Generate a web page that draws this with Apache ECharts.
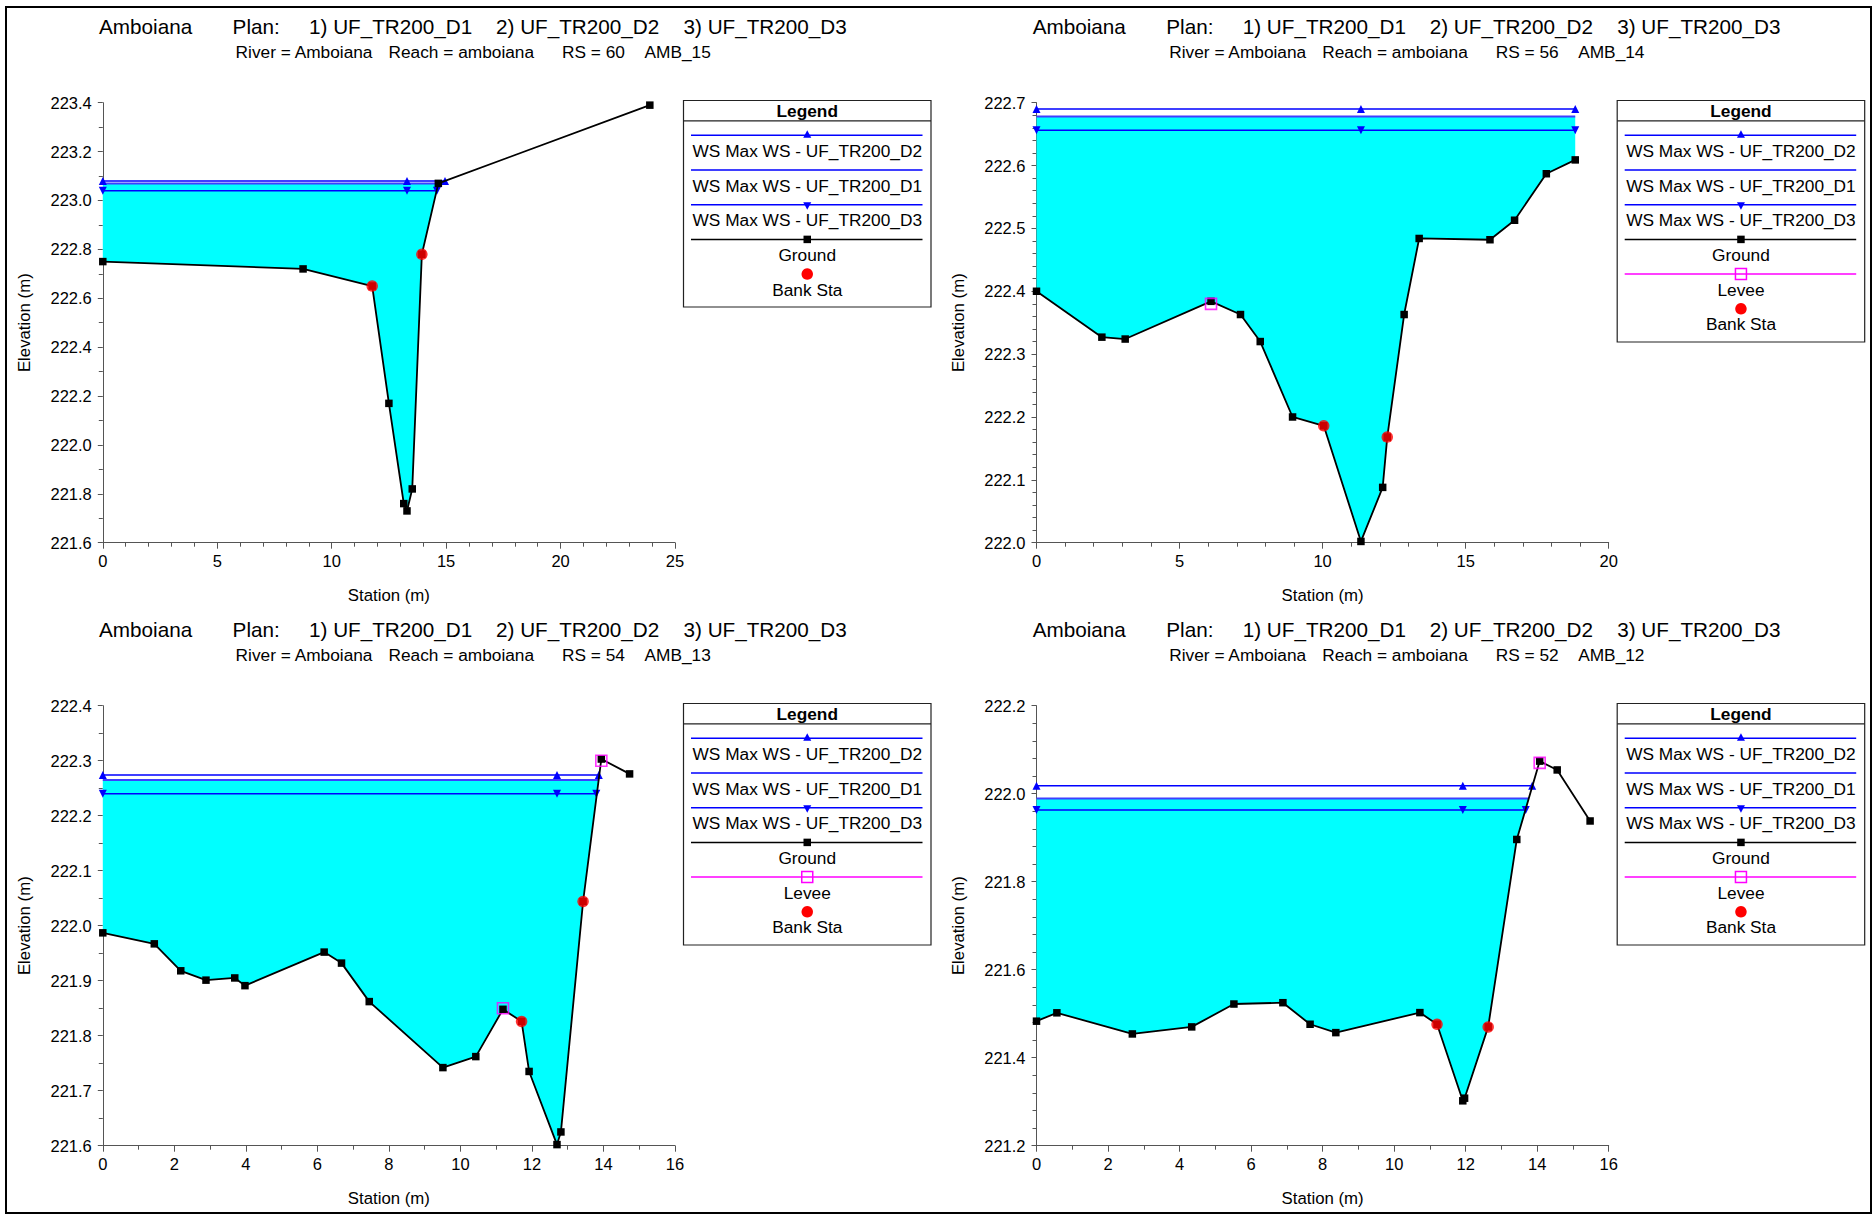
<!DOCTYPE html>
<html><head><meta charset="utf-8">
<script src="https://cdn.jsdelivr.net/npm/echarts@6/dist/echarts.min.js"></script>
<style>html,body{margin:0;padding:0;background:#fff}#c{width:1874px;height:1216px}</style>
</head><body><div id="c"></div>
<script>
// ---------------- DATA ----------------
const planLabels = ['1) UF_TR200_D1', '2) UF_TR200_D2', '3) UF_TR200_D3'];
const legendLabels = ['WS Max WS - UF_TR200_D2', 'WS Max WS - UF_TR200_D1', 'WS Max WS - UF_TR200_D3', 'Ground', 'Levee', 'Bank Sta'];

// RS = 60  AMB_15
const rs60_groundStation = [0, 8.75, 11.77, 12.5, 13.15, 13.29, 13.52, 13.94, 14.66, 23.9];
const rs60_groundElev    = [222.75, 222.72, 222.65, 222.17, 221.76, 221.73, 221.82, 222.78, 223.07, 223.39];
const rs60_bankStation = [11.77, 13.94];
const rs60_bankElev    = [222.65, 222.78];
const rs60_leveeStation = [];
const rs60_leveeElev    = [];
const rs60_wsD2 = 223.08,  rs60_wsD2Station = [0, 13.29, 14.95];
const rs60_wsD1 = 223.069, rs60_wsD1Station = [0, 14.66];
const rs60_wsD3 = 223.04,  rs60_wsD3Station = [0, 13.29, 14.6];
const rs60_xTicks = [0, 25, 5];
const rs60_yTicks = [221.6, 223.4, 0.2];

// RS = 56  AMB_14
const rs56_groundStation = [0, 2.285, 3.10, 6.10, 7.13, 7.82, 8.95, 10.04, 11.34, 12.10, 12.26, 12.85, 13.375, 15.85, 16.71, 17.82, 18.83];
const rs56_groundElev    = [222.40, 222.327, 222.324, 222.384, 222.363, 222.32, 222.20, 222.186, 222.002, 222.088, 222.168, 222.363, 222.484, 222.482, 222.513, 222.587, 222.609];
const rs56_bankStation = [10.04, 12.26];
const rs56_bankElev    = [222.186, 222.168];
const rs56_leveeStation = [6.10];
const rs56_leveeElev    = [222.38];
const rs56_wsD2 = 222.690, rs56_wsD2Station = [0, 11.34, 18.83];
const rs56_wsD1 = 222.678, rs56_wsD1Station = [0, 18.83];
const rs56_wsD3 = 222.656, rs56_wsD3Station = [0, 11.34, 18.83];
const rs56_xTicks = [0, 20, 5];
const rs56_yTicks = [222.0, 222.7, 0.1];

// RS = 54  AMB_13
const rs54_groundStation = [0, 1.44, 2.18, 2.885, 3.69, 3.975, 6.19, 6.675, 7.45, 9.51, 10.43, 11.19, 11.71, 11.92, 12.70, 12.81, 13.43, 13.94, 14.73];
const rs54_groundElev    = [221.987, 221.967, 221.918, 221.901, 221.905, 221.891, 221.952, 221.932, 221.862, 221.742, 221.762, 221.848, 221.826, 221.735, 221.602, 221.625, 222.044, 222.303, 222.276];
const rs54_bankStation = [11.71, 13.43];
const rs54_bankElev    = [221.826, 222.044];
const rs54_leveeStation = [11.19, 13.94];
const rs54_leveeElev    = [221.85, 222.30];
const rs54_wsD2 = 222.274, rs54_wsD2Station = [0, 12.70, 13.87];
const rs54_wsD1 = 222.265, rs54_wsD1Station = [0, 13.865];
const rs54_wsD3 = 222.240, rs54_wsD3Station = [0, 12.70, 13.80];
const rs54_xTicks = [0, 16, 2];
const rs54_yTicks = [221.6, 222.4, 0.1];

// RS = 52  AMB_12
const rs52_groundStation = [0, 0.57, 2.68, 4.34, 5.52, 6.89, 7.65, 8.37, 10.72, 11.20, 11.92, 11.97, 12.63, 13.43, 14.07, 14.56, 15.48];
const rs52_groundElev    = [221.483, 221.502, 221.454, 221.470, 221.522, 221.525, 221.476, 221.457, 221.5025, 221.476, 221.302, 221.308, 221.470, 221.896, 222.074, 222.054, 221.938];
const rs52_bankStation = [11.20, 12.63];
const rs52_bankElev    = [221.476, 221.470];
const rs52_leveeStation = [14.07];
const rs52_leveeElev    = [222.07];
const rs52_wsD2 = 222.018, rs52_wsD2Station = [0, 11.92, 13.86];
const rs52_wsD1 = 221.989, rs52_wsD1Station = [0, 13.76];
const rs52_wsD3 = 221.963, rs52_wsD3Station = [0, 11.92, 13.68];
const rs52_xTicks = [0, 16, 2];
const rs52_yTicks = [221.2, 222.2, 0.2];

// ---------------- BUILD ----------------
const FONT = '"Liberation Sans", Arial, sans-serif';
const zip = (a, b) => a.map((v, i) => [v, b[i]]);
const flat = (xs, lvl) => xs.map(x => [x, lvl]);

const panels = [
  {rs: '60', amb: 'AMB_15', ox: 0, oy: 0, gx: rs60_groundStation, gy: rs60_groundElev, bx: rs60_bankStation, by: rs60_bankElev, lx: rs60_leveeStation, ly: rs60_leveeElev,
   d2: rs60_wsD2, d2x: rs60_wsD2Station, d1: rs60_wsD1, d1x: rs60_wsD1Station, d3: rs60_wsD3, d3x: rs60_wsD3Station, xt: rs60_xTicks, yt: rs60_yTicks, xMinor: 5, yMinor: 2, levee: false},
  {rs: '56', amb: 'AMB_14', ox: 933.7, oy: 0, gx: rs56_groundStation, gy: rs56_groundElev, bx: rs56_bankStation, by: rs56_bankElev, lx: rs56_leveeStation, ly: rs56_leveeElev,
   d2: rs56_wsD2, d2x: rs56_wsD2Station, d1: rs56_wsD1, d1x: rs56_wsD1Station, d3: rs56_wsD3, d3x: rs56_wsD3Station, xt: rs56_xTicks, yt: rs56_yTicks, xMinor: 5, yMinor: 5, levee: true},
  {rs: '54', amb: 'AMB_13', ox: 0, oy: 603, gx: rs54_groundStation, gy: rs54_groundElev, bx: rs54_bankStation, by: rs54_bankElev, lx: rs54_leveeStation, ly: rs54_leveeElev,
   d2: rs54_wsD2, d2x: rs54_wsD2Station, d1: rs54_wsD1, d1x: rs54_wsD1Station, d3: rs54_wsD3, d3x: rs54_wsD3Station, xt: rs54_xTicks, yt: rs54_yTicks, xMinor: 2, yMinor: 2, levee: true},
  {rs: '52', amb: 'AMB_12', ox: 933.7, oy: 603, gx: rs52_groundStation, gy: rs52_groundElev, bx: rs52_bankStation, by: rs52_bankElev, lx: rs52_leveeStation, ly: rs52_leveeElev,
   d2: rs52_wsD2, d2x: rs52_wsD2Station, d1: rs52_wsD1, d1x: rs52_wsD1Station, d3: rs52_wsD3, d3x: rs52_wsD3Station, xt: rs52_xTicks, yt: rs52_yTicks, xMinor: 2, yMinor: 5, levee: true}
];

const grid = [], xAxis = [], yAxis = [], series = [], graphic = [];
const BLUE = '#0000ff', BLUE1 = '#3f3fff';

panels.forEach((p, i) => {
  grid.push({left: 102.8 + p.ox, top: 102.7 + p.oy, width: 572.2, height: 440});
  xAxis.push({
    type: 'value', gridIndex: i, min: p.xt[0], max: p.xt[1], interval: p.xt[2],
    name: 'Station (m)', nameLocation: 'middle', nameGap: 44,
    nameTextStyle: {fontFamily: FONT, fontSize: 16.8, color: '#000'},
    axisLine: {show: true, onZero: false, lineStyle: {color: '#555', width: 1}},
    axisTick: {show: true, inside: false, length: 6, lineStyle: {color: '#555'}},
    minorTick: {show: true, splitNumber: p.xMinor, length: 4, lineStyle: {color: '#555'}},
    splitLine: {show: false},
    axisLabel: {fontFamily: FONT, fontSize: 16.5, color: '#000', margin: 10, formatter: v => String(Math.round(v))}
  });
  yAxis.push({
    type: 'value', gridIndex: i, min: p.yt[0], max: p.yt[1], interval: p.yt[2],
    name: 'Elevation (m)', nameLocation: 'middle', nameGap: 70, nameRotate: 90,
    nameTextStyle: {fontFamily: FONT, fontSize: 16.8, color: '#000'},
    axisLine: {show: true, onZero: false, lineStyle: {color: '#555', width: 1}},
    axisTick: {show: true, inside: false, length: 5, lineStyle: {color: '#555'}},
    minorTick: {show: true, splitNumber: p.yMinor, length: 4, lineStyle: {color: '#555'}},
    splitLine: {show: false},
    axisLabel: {fontFamily: FONT, fontSize: 16.5, color: '#000', margin: 11, formatter: v => v.toFixed(1)}
  });

  // water fill between ground and WS D1 level
  const gx = p.gx, gy = p.gy, d1x = p.d1x, lvl = p.d1;
  series.push({
    type: 'custom', xAxisIndex: i, yAxisIndex: i, z: 1, silent: true, animation: false,
    data: [[d1x[0], lvl]],
    renderItem: function (params, api) {
      const x0 = d1x[0], x1 = d1x[d1x.length - 1];
      const pts = [[x0, lvl], [x1, lvl]];
      for (let k = gx.length - 1; k >= 0; k--) {
        if (gx[k] >= x0 - 1e-9 && gx[k] <= x1 + 1e-9) pts.push([gx[k], gy[k]]);
      }
      return {type: 'polygon', shape: {points: pts.map(q => api.coord(q))}, style: {fill: '#00ffff', stroke: null}};
    }
  });
  series.push({type: 'line', name: legendLabels[1], xAxisIndex: i, yAxisIndex: i, z: 2, animation: false,
    data: flat(p.d1x, p.d1), showSymbol: false, symbol: 'none', lineStyle: {color: BLUE1, width: 2}});
  series.push({type: 'line', name: legendLabels[0], xAxisIndex: i, yAxisIndex: i, z: 3, animation: false,
    data: flat(p.d2x, p.d2), symbol: 'triangle', symbolSize: 8, showAllSymbol: true,
    itemStyle: {color: BLUE}, lineStyle: {color: BLUE, width: 1.5}});
  series.push({type: 'line', name: legendLabels[2], xAxisIndex: i, yAxisIndex: i, z: 3, animation: false,
    data: flat(p.d3x, p.d3), symbol: 'triangle', symbolRotate: 180, symbolSize: 8, showAllSymbol: true,
    itemStyle: {color: BLUE}, lineStyle: {color: BLUE, width: 1.5}});
  series.push({type: 'line', name: legendLabels[3], xAxisIndex: i, yAxisIndex: i, z: 4, animation: false,
    data: zip(p.gx, p.gy), symbol: 'rect', symbolSize: 7.5, showAllSymbol: true,
    itemStyle: {color: '#000'}, lineStyle: {color: '#000', width: 1.8}});
  if (p.lx.length) series.push({type: 'scatter', name: legendLabels[4], xAxisIndex: i, yAxisIndex: i, z: 5, animation: false,
    data: zip(p.lx, p.ly), symbol: 'rect', symbolSize: 11,
    itemStyle: {color: 'rgba(0,0,0,0)', borderColor: '#ff00ff', borderWidth: 1.6}});
  series.push({type: 'scatter', name: legendLabels[5], xAxisIndex: i, yAxisIndex: i, z: 6, animation: false,
    data: zip(p.bx, p.by), symbol: 'circle', symbolSize: 11.5, itemStyle: {color: '#ff0000'}});

  // titles
  const T = (x, y, text, size, weight, align) => ({type: 'text', x: x + p.ox, y: y + p.oy,
    style: {text: text, font: (weight || 'normal') + ' ' + size + 'px ' + FONT, fill: '#000', align: align || 'left', verticalAlign: 'middle',
            textAlign: align || 'left', textVerticalAlign: 'middle'}});
  graphic.push(T(99, 26, 'Amboiana', 20.7));
  graphic.push(T(232.6, 26, 'Plan:', 20.7));
  graphic.push(T(309, 26, planLabels[0], 20.7));
  graphic.push(T(496, 26, planLabels[1], 20.7));
  graphic.push(T(683.5, 26, planLabels[2], 20.7));
  graphic.push(T(235.6, 52, 'River = Amboiana', 17.3));
  graphic.push(T(388.5, 52, 'Reach = amboiana', 17.3));
  graphic.push(T(562, 52, 'RS = ' + p.rs, 17.3));
  graphic.push(T(644.5, 52, p.amb, 17.3));

  // legend box
  const L = 683.5 + p.ox, TP = 100.5 + p.oy, W = 247.5, H = p.levee ? 241.5 : 206.5;
  const cx = L + W / 2, lx1 = 691 + p.ox, lx2 = 922.5 + p.ox;
  graphic.push({type: 'rect', shape: {x: L, y: TP, width: W, height: H}, style: {fill: '#fff', stroke: '#222', lineWidth: 1.2}});
  graphic.push({type: 'text', x: cx, y: TP + 10.5, style: {text: 'Legend', font: 'bold 17.3px ' + FONT, fill: '#000', align: 'center', verticalAlign: 'middle', textAlign: 'center', textVerticalAlign: 'middle'}});
  graphic.push({type: 'line', shape: {x1: L, y1: TP + 20.3, x2: L + W, y2: TP + 20.3}, style: {stroke: '#222', lineWidth: 1.2}});
  const step = 34.7;
  let y = TP + 34.8;
  const items = [
    {label: legendLabels[0], color: BLUE, w: 1.5, mark: 'up'},
    {label: legendLabels[1], color: BLUE1, w: 2, mark: null},
    {label: legendLabels[2], color: BLUE, w: 1.5, mark: 'down'},
    {label: legendLabels[3], color: '#000', w: 1.5, mark: 'sq'}
  ];
  if (p.levee) items.push({label: legendLabels[4], color: '#ff00ff', w: 1.5, mark: 'hsq'});
  items.push({label: legendLabels[5], color: null, mark: 'dot'});
  items.forEach(it => {
    if (it.color) graphic.push({type: 'line', shape: {x1: lx1, y1: y, x2: lx2, y2: y}, style: {stroke: it.color, lineWidth: it.w}});
    if (it.mark === 'up') graphic.push({type: 'polygon', shape: {points: [[cx, y - 5], [cx - 4, y + 2.5], [cx + 4, y + 2.5]]}, style: {fill: BLUE}});
    if (it.mark === 'down') graphic.push({type: 'polygon', shape: {points: [[cx, y + 5], [cx - 4, y - 2.5], [cx + 4, y - 2.5]]}, style: {fill: BLUE}});
    if (it.mark === 'sq') graphic.push({type: 'rect', shape: {x: cx - 3.75, y: y - 3.75, width: 7.5, height: 7.5}, style: {fill: '#000'}});
    if (it.mark === 'hsq') graphic.push({type: 'rect', shape: {x: cx - 5.5, y: y - 5.5, width: 11, height: 11}, style: {fill: 'none', stroke: '#ff00ff', lineWidth: 1.5}});
    if (it.mark === 'dot') graphic.push({type: 'circle', shape: {cx: cx, cy: y, r: 5.75}, style: {fill: '#ff0000'}});
    graphic.push({type: 'text', x: cx, y: y + 15.5, style: {text: it.label, font: '17.3px ' + FONT, fill: '#000', align: 'center', verticalAlign: 'middle', textAlign: 'center', textVerticalAlign: 'middle'}});
    y += step;
  });
});

// outer frame
graphic.push({type: 'rect', shape: {x: 6, y: 7, width: 1865, height: 1206}, style: {fill: 'none', stroke: '#000', lineWidth: 2}, z: 100});

const chart = echarts.init(document.getElementById('c'), null, {renderer: 'svg'});
chart.setOption({
  animation: false,
  backgroundColor: '#fff',
  grid: grid, xAxis: xAxis, yAxis: yAxis, series: series, graphic: graphic
});
</script></body></html>
